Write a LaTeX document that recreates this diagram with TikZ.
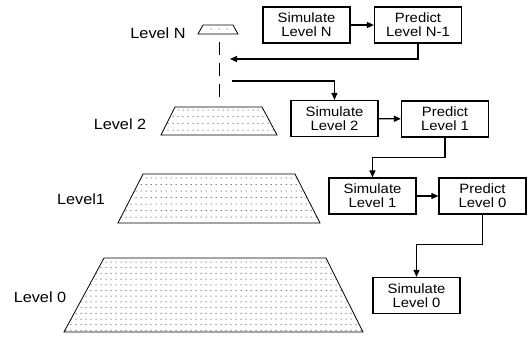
\documentclass[tikz,border=0pt]{standalone}
\usepackage{fontspec}
\setmainfont{Liberation Sans}
\newfontfamily\widesans[FakeStretch=1.1]{Liberation Sans}
\usetikzlibrary{arrows.meta}
\tikzset{
 box/.style={draw, line width=1.2pt, minimum width=87pt, minimum height=36pt, inner sep=0pt, align=center, font=\widesans\fontsize{13.5}{14}\selectfont},
 lbl/.style={font=\widesans\fontsize{14.8}{16}\selectfont, inner sep=0pt},
 arr/.style={line width=1.2pt, -{Triangle[length=7pt,width=6pt]}},
 conn/.style={line width=1.2pt},
 trap/.style={line width=0.8pt},
 dot/.style={fill=black},
}
\begin{document}
\begin{tikzpicture}[x=1pt,y=-1pt]
\useasboundingbox (0,0) rectangle (529,337);
% ---- trapezoid dots
\begin{scope}
 \clip (104,258) -- (326,258) -- (363,332) -- (64,332) -- cycle;
 \foreach \i in {0,...,60} \foreach \j in {0,...,12} \fill[dot] (66+5*\i, 262+5.7*\j) circle (0.5pt);
\end{scope}
\begin{scope}
 \clip (143,174) -- (295,174) -- (320,223) -- (118,223) -- cycle;
 \foreach \i in {0,...,40} \foreach \j in {0,...,7} \fill[dot] (121+5*\i, 178+6.5*\j) circle (0.5pt);
\end{scope}
\begin{scope}
 \clip (175,107) -- (262,107) -- (277,135) -- (161,135) -- cycle;
 \foreach \i in {0,...,24} \foreach \j in {0,...,3} \fill[dot] (163+5*\i, 110+6.7*\j) circle (0.5pt);
\end{scope}
\fill[dot] (211,29) circle (0.5pt) (219,29) circle (0.5pt) (227,29) circle (0.5pt);
% ---- trapezoid outlines
\draw[trap] (104,258) -- (326,258) -- (363,332) -- (64,332) -- cycle;
\draw[trap] (143,174) -- (295,174) -- (320,223) -- (118,223) -- cycle;
\draw[trap] (175,107) -- (262,107) -- (277,135) -- (161,135) -- cycle;
\draw[trap] (203,25) -- (233,25) -- (238,34) -- (198,34) -- cycle;
% ---- dashed link
\coordinate (nbot) at (219,42);
\coordinate (ltop) at (219,98);
\draw[line width=1pt, dash pattern=on 13pt off 8pt] (nbot) -- (ltop);
% ---- labels
\node[lbl] (lN) at (158,33) {Level N};
\node[lbl] (l2) at (120,124) {Level 2};
\node[lbl] (l1) at (81,199) {Level1};
\node[lbl] (l0) at (40,297) {Level 0};
% ---- boxes
\node[box] (simN) at (306.5,25) {Simulate\\Level N};
\node[box] (preN) at (418,25) {Predict\\Level N-1};
\node[box] (sim2) at (334.5,118.5) {Simulate\\Level 2};
\node[box] (pre1) at (445,119) {Predict\\Level 1};
\node[box] (sim1) at (372.5,196) {Simulate\\Level 1};
\node[box] (pre0) at (482.5,196) {Predict\\Level 0};
\node[box] (sim0) at (416.5,295.5) {Simulate\\Level 0};
% ---- connectors
\coordinate (aN) at (230,59);
\coordinate (s2) at (232,81);
\draw[arr] (simN) -- (preN);
\draw[arr] (preN.south) |- (aN);
\draw[arr] (s2) -| (sim2.north);
\draw[arr] (sim2) -- (pre1);
\draw[arr] (pre1.south) -- ++(0,20) -| (sim1.north);
\draw[arr] (sim1) -- (pre0);
\draw[arr] (pre0.south) -- ++(0,30) -| (sim0.north);
\end{tikzpicture}
\end{document}
